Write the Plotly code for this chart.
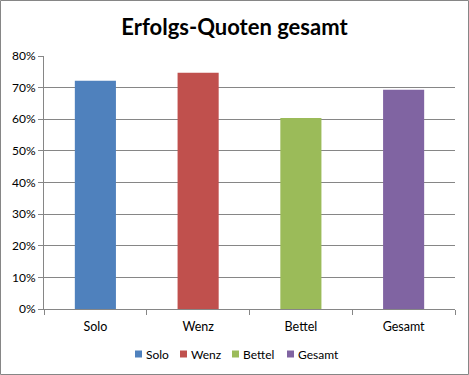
import plotly.graph_objects as go

categories = ["Solo", "Wenz", "Bettel", "Gesamt"]
values = [0.722, 0.747, 0.604, 0.693]
colors = ["#4F81BD", "#C0504D", "#9BBB59", "#8064A2"]
y_ticks = [0, 0.1, 0.2, 0.3, 0.4, 0.5, 0.6, 0.7, 0.8]
title_text = "Erfolgs-Quoten gesamt"

W, H = 469, 375
ml, mr, mt, mb = 44, 14, 56, 66
pw, ph = W - ml - mr, H - mt - mb


def px_x(p):
    return (p - ml) / pw


def px_y(p):
    return (H - mb - p) / ph


fig = go.Figure()
for c, v, col in zip(categories, values, colors):
    fig.add_trace(go.Bar(x=[c], y=[v], name=c, showlegend=False,
                         marker=dict(color=col, line=dict(width=0))))

# manual legend (Excel style: small square, text right after)
legend_square_left = [135, 180, 232, 287]
legend_y = 354
shapes = []
annotations = []
for c, col, sx in zip(categories, colors, legend_square_left):
    shapes.append(dict(type="rect", xref="paper", yref="paper",
                       x0=px_x(sx), x1=px_x(sx + 7), y0=px_y(legend_y + 3.5), y1=px_y(legend_y - 3.5),
                       fillcolor=col, line=dict(width=0)))
    annotations.append(dict(text=c, xref="paper", yref="paper", x=px_x(sx + 9), y=px_y(legend_y),
                            xanchor="left", yanchor="middle", showarrow=False,
                            font=dict(size=12, color="black")))

shapes.append(dict(type="rect", xref="paper", yref="paper",
                   x0=px_x(0.5), x1=px_x(W - 0.5), y0=px_y(H - 0.5), y1=px_y(0.5),
                   line=dict(color="#868686", width=1), fillcolor="rgba(0,0,0,0)", layer="above"))

fig.update_layout(
    width=W, height=H,
    margin=dict(l=ml, r=mr, t=mt, b=mb),
    paper_bgcolor="white", plot_bgcolor="white",
    barmode="overlay", bargap=0.6,
    font=dict(family="Lato, Open Sans, sans-serif", size=12, color="black"),
    title=dict(text="<b>" + title_text + "</b>", x=0.5, xref="container", xanchor="center",
               y=1 - 27 / H, yref="container", yanchor="middle",
               font=dict(size=22, color="black", family="Lato, sans-serif")),
    showlegend=False,
    xaxis=dict(categoryorder="array", categoryarray=categories,
               showline=True, linecolor="#868686", linewidth=1,
               ticks="outside", tickson="boundaries", ticklen=5, tickcolor="#868686",
               ticklabelstandoff=6,
               showgrid=False, tickfont=dict(size=12.5)),
    yaxis=dict(range=[0, 0.8], tickvals=y_ticks, tickformat=".0%",
               showline=True, linecolor="#868686", linewidth=1,
               ticks="outside", ticklen=5, tickcolor="#868686",
               showgrid=True, gridcolor="#868686", gridwidth=1,
               zeroline=False, tickfont=dict(size=12)),
    shapes=shapes,
    annotations=annotations,
)

fig.write_html("out.html", config={"displayModeBar": False},
               post_script="document.body.style.margin='0';document.body.style.padding='0';")
